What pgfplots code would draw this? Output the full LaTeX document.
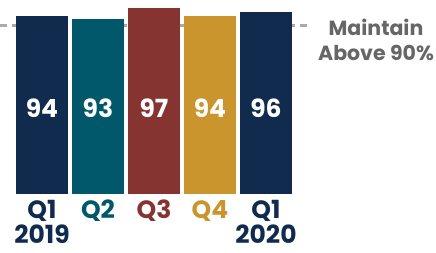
\documentclass[border=0pt]{standalone}
\usepackage{pgfplots}
\pgfplotsset{compat=1.18}
\usepackage{fontspec}
\setmainfont{Poppins}
\definecolor{cnavy}{RGB}{16,43,78}
\definecolor{cteal}{RGB}{0,88,106}
\definecolor{cred}{RGB}{134,52,49}
\definecolor{cgold}{RGB}{201,149,44}
\definecolor{cline}{RGB}{170,170,170}
\definecolor{ctext}{RGB}{102,102,102}
\begin{document}
\begin{tikzpicture}
\path[use as bounding box] (0,0) rectangle (436pt,252pt);
\begin{axis}[
  at={(0pt,58pt)}, anchor=south west,
  scale only axis, width=309pt, height=194pt,
  xmin=-0.75, xmax=4.768, ymin=29.4, ymax=99.9,
  axis line style={draw=none}, tick style={draw=none},
  ytick=\empty,
  xtick={0,1,2,3,4},
  xticklabels={{\textcolor{cnavy}{Q1}\\\textcolor{cnavy}{2019}},
               {\textcolor{cteal}{Q2}},
               {\textcolor{cred}{Q3}},
               {\textcolor{cgold}{Q4}},
               {\textcolor{cnavy}{Q1}\\\textcolor{cnavy}{2020}}},
  xticklabel style={align=center, anchor=north, inner sep=1pt, font=\fontsize{25}{25.5}\selectfont\bfseries, yshift=-5pt},
]
\addplot[draw=cline, line width=3pt, dash pattern=on 7pt off 5pt, mark=none] coordinates {(-0.75,90.8) (4.768,90.8)};
\addplot[ybar, bar width=52pt, bar shift=0pt, draw=none, fill=cnavy] coordinates {(0,94)};
\addplot[ybar, bar width=52pt, bar shift=0pt, draw=none, fill=cteal] coordinates {(1,93)};
\addplot[ybar, bar width=52pt, bar shift=0pt, draw=none, fill=cred] coordinates {(2,97)};
\addplot[ybar, bar width=52pt, bar shift=0pt, draw=none, fill=cgold] coordinates {(3,94)};
\addplot[ybar, bar width=52pt, bar shift=0pt, draw=none, fill=cnavy] coordinates {(4,95.6)};
\addplot[draw=none, mark=none, nodes near coords, point meta=explicit symbolic,
  nodes near coords style={anchor=center, text=white, font=\fontsize{25}{26}\selectfont\bfseries}]
  coordinates {(0,60.6)[94] (1,60.6)[93] (2,60.6)[97] (3,60.6)[94] (4,60.6)[96]};
\end{axis}
\node[align=center, text=ctext, inner sep=0pt, font=\fontsize{20.5}{25}\selectfont\bfseries] at (376pt,212pt) {Maintain\\Above 90\%};
\end{tikzpicture}
\end{document}
